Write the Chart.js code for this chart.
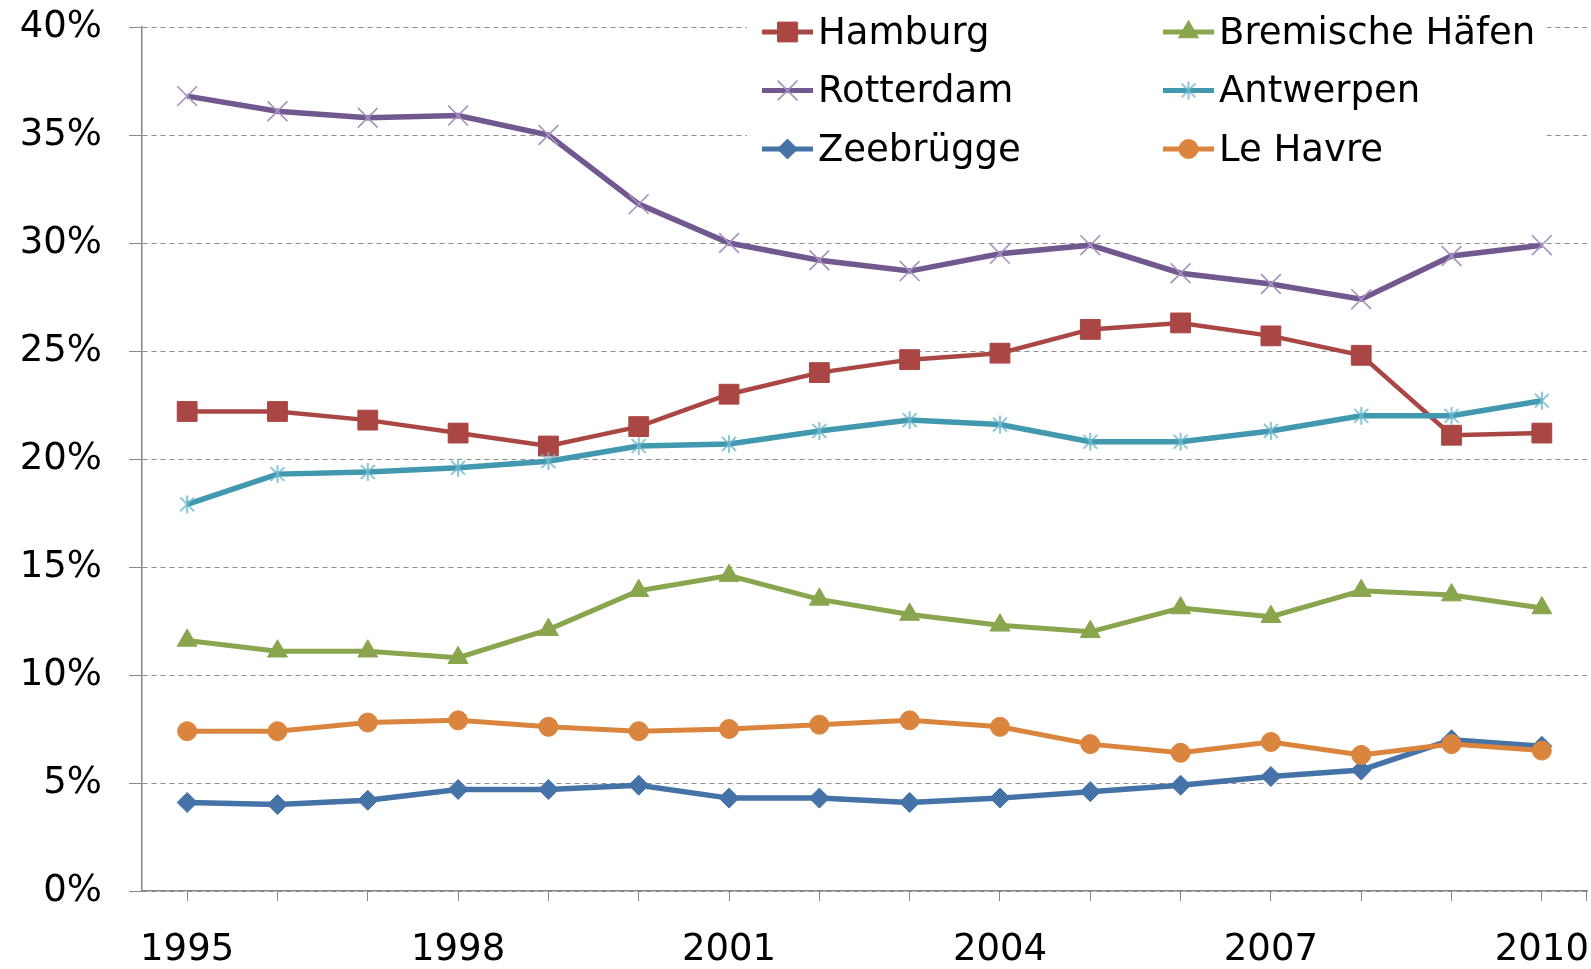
<!DOCTYPE html>
<html lang="de">
<head>
    <meta charset="UTF-8">
    <title>Marktanteile Containerhäfen</title>
    <script src="https://cdn.jsdelivr.net/npm/chart.js"></script>
    <style>
        body { margin: 0; background: #fff; }
    </style>
</head>
<body>
    <canvas id="portChart" width="1591" height="969"></canvas>
<script>
    // Jahre und Achsenbeschriftung
    const years = ['1995', '1996', '1997', '1998', '1999', '2000', '2001', '2002',
                   '2003', '2004', '2005', '2006', '2007', '2008', '2009', '2010'];
    const xTickLabels = ['1995', '', '', '1998', '', '', '2001', '', '', '2004', '', '', '2007', '', '', '2010'];

    // Marktanteile in %
    const hamburg    = [22.2, 22.2, 21.8, 21.2, 20.6, 21.5, 23.0, 24.0, 24.6, 24.9, 26.0, 26.3, 25.7, 24.8, 21.1, 21.2];
    const bremen     = [11.6, 11.1, 11.1, 10.8, 12.1, 13.9, 14.6, 13.5, 12.8, 12.3, 12.0, 13.1, 12.7, 13.9, 13.7, 13.1];
    const rotterdam  = [36.8, 36.1, 35.8, 35.9, 35.0, 31.8, 30.0, 29.2, 28.7, 29.5, 29.9, 28.6, 28.1, 27.4, 29.4, 29.9];
    const antwerpen  = [17.9, 19.3, 19.4, 19.6, 19.9, 20.6, 20.7, 21.3, 21.8, 21.6, 20.8, 20.8, 21.3, 22.0, 22.0, 22.7];
    const zeebrugge  = [4.1, 4.0, 4.2, 4.7, 4.7, 4.9, 4.3, 4.3, 4.1, 4.3, 4.6, 4.9, 5.3, 5.6, 7.0, 6.7];
    const leHavre    = [7.4, 7.4, 7.8, 7.9, 7.6, 7.4, 7.5, 7.7, 7.9, 7.6, 6.8, 6.4, 6.9, 6.3, 6.8, 6.5];

    // Stern-Marker wie in Excel (senkrechter Strich + X)
    function makeAsterisk(color) {
        const c = document.createElement('canvas');
        c.width = 20; c.height = 20;
        const g = c.getContext('2d');
        g.strokeStyle = color;
        g.lineWidth = 1.6;
        g.beginPath();
        g.moveTo(10, 1); g.lineTo(10, 19);
        g.moveTo(3, 3); g.lineTo(17, 17);
        g.moveTo(17, 3); g.lineTo(3, 17);
        g.stroke();
        return c;
    }
    const asterisk = makeAsterisk('#6cb7cc');

    Chart.defaults.font.family = '"DejaVu Sans", Verdana, sans-serif';
    Chart.defaults.font.size = 37;
    Chart.defaults.color = '#000';

    const datasets = [
        { label: 'Hamburg', data: hamburg, borderColor: '#AA4643', backgroundColor: '#AA4643',
          pointStyle: 'rect', pointRadius: 14, pointBorderWidth: 1, borderWidth: 4.5, order: 6 },
        { label: 'Bremische Häfen', data: bremen, borderColor: '#89A54E', backgroundColor: '#89A54E',
          pointStyle: 'triangle', pointRadius: 11.5, pointBorderWidth: 1, borderWidth: 5, order: 5 },
        { label: 'Rotterdam', data: rotterdam, borderColor: '#71588F', backgroundColor: '#71588F',
          pointBorderColor: '#a592c2', pointStyle: 'crossRot', pointRadius: 14, pointBorderWidth: 1.6,
          borderWidth: 5.5, order: 4 },
        { label: 'Antwerpen', data: antwerpen, borderColor: '#4198AF', backgroundColor: '#4198AF',
          pointStyle: asterisk, pointRadius: 10, borderWidth: 5.5, order: 3 },
        { label: 'Zeebrügge', data: zeebrugge, borderColor: '#4572A7', backgroundColor: '#4572A7',
          pointStyle: 'rectRot', pointRadius: 10, pointBorderWidth: 1, borderWidth: 5.5, order: 2 },
        { label: 'Le Havre', data: leHavre, borderColor: '#DB843D', backgroundColor: '#DB843D',
          pointStyle: 'circle', pointRadius: 9.5, pointBorderWidth: 1, borderWidth: 5, order: 1 }
    ];

    // Legende im Diagramm, zwei Spalten, weißer Hintergrund
    const boxLegend = {
        id: 'boxLegend',
        afterDraw(chart) {
            const ctx = chart.ctx;
            ctx.save();
            ctx.fillStyle = '#fff';
            ctx.fillRect(747, 4, 800, 172);
            datasets.forEach((ds, i) => {
                const x0 = [762, 1163][i % 2];
                const y = 32 + Math.floor(i / 2) * 58.5;
                ctx.strokeStyle = ds.borderColor;
                ctx.lineWidth = 5;
                ctx.beginPath();
                ctx.moveTo(x0, y);
                ctx.lineTo(x0 + 51, y);
                ctx.stroke();
                ctx.fillStyle = ds.backgroundColor;
                ctx.strokeStyle = ds.pointBorderColor || ds.borderColor;
                ctx.lineWidth = ds.pointBorderWidth || 1;
                Chart.helpers.drawPoint(ctx, {
                    pointStyle: ds.pointStyle,
                    radius: ds.pointRadius,
                    borderWidth: ds.pointBorderWidth || 1,
                    rotation: 0
                }, x0 + 25.5, y);
                ctx.fillStyle = '#000';
                ctx.font = '37px "DejaVu Sans", Verdana, sans-serif';
                ctx.textBaseline = 'middle';
                ctx.textAlign = 'left';
                ctx.fillText(ds.label, x0 + 56, y + 2);
            });
            // Teilstrich am rechten Ende der x-Achse
            const xs = chart.scales.x;
            ctx.strokeStyle = '#868686';
            ctx.lineWidth = 1;
            ctx.beginPath();
            ctx.moveTo(xs.right - 0.5, xs.top);
            ctx.lineTo(xs.right - 0.5, xs.top + 10);
            ctx.stroke();
            ctx.restore();
        }
    };

    const ctx = document.getElementById('portChart').getContext('2d');
    const portChart = new Chart(ctx, {
        type: 'line',
        data: { labels: years, datasets: datasets },
        options: {
            responsive: false,
            animation: false,
            layout: { autoPadding: false, padding: { left: 0, top: 27, right: 4, bottom: 0 } },
            elements: { line: { tension: 0 } },
            plugins: { legend: { display: false }, tooltip: { enabled: false } },
            scales: {
                x: {
                    offset: true,
                    grid: { drawOnChartArea: false, offset: false, color: '#868686', tickLength: 10 },
                    border: { color: '#868686', width: 1.5 },
                    ticks: {
                        autoSkip: false, maxRotation: 0, padding: 27,
                        callback: (v, i) => xTickLabels[i]
                    },
                    afterFit: (scale) => {
                        scale.height = 78;
                        scale.paddingLeft = 0;
                        scale.paddingRight = 0;
                    }
                },
                y: {
                    min: 0, max: 40,
                    grid: { color: '#8c8c8c', tickLength: 13, tickBorderDash: [] },
                    border: { color: '#868686', width: 1.5, dash: [5, 4] },
                    ticks: { stepSize: 5, padding: 27, callback: (v) => v + '%' },
                    afterFit: (scale) => {
                        scale.width = 142;
                        scale.paddingTop = 0;
                        scale.paddingBottom = 0;
                    }
                }
            }
        },
        plugins: [boxLegend]
    });
</script>
</body>
</html>
